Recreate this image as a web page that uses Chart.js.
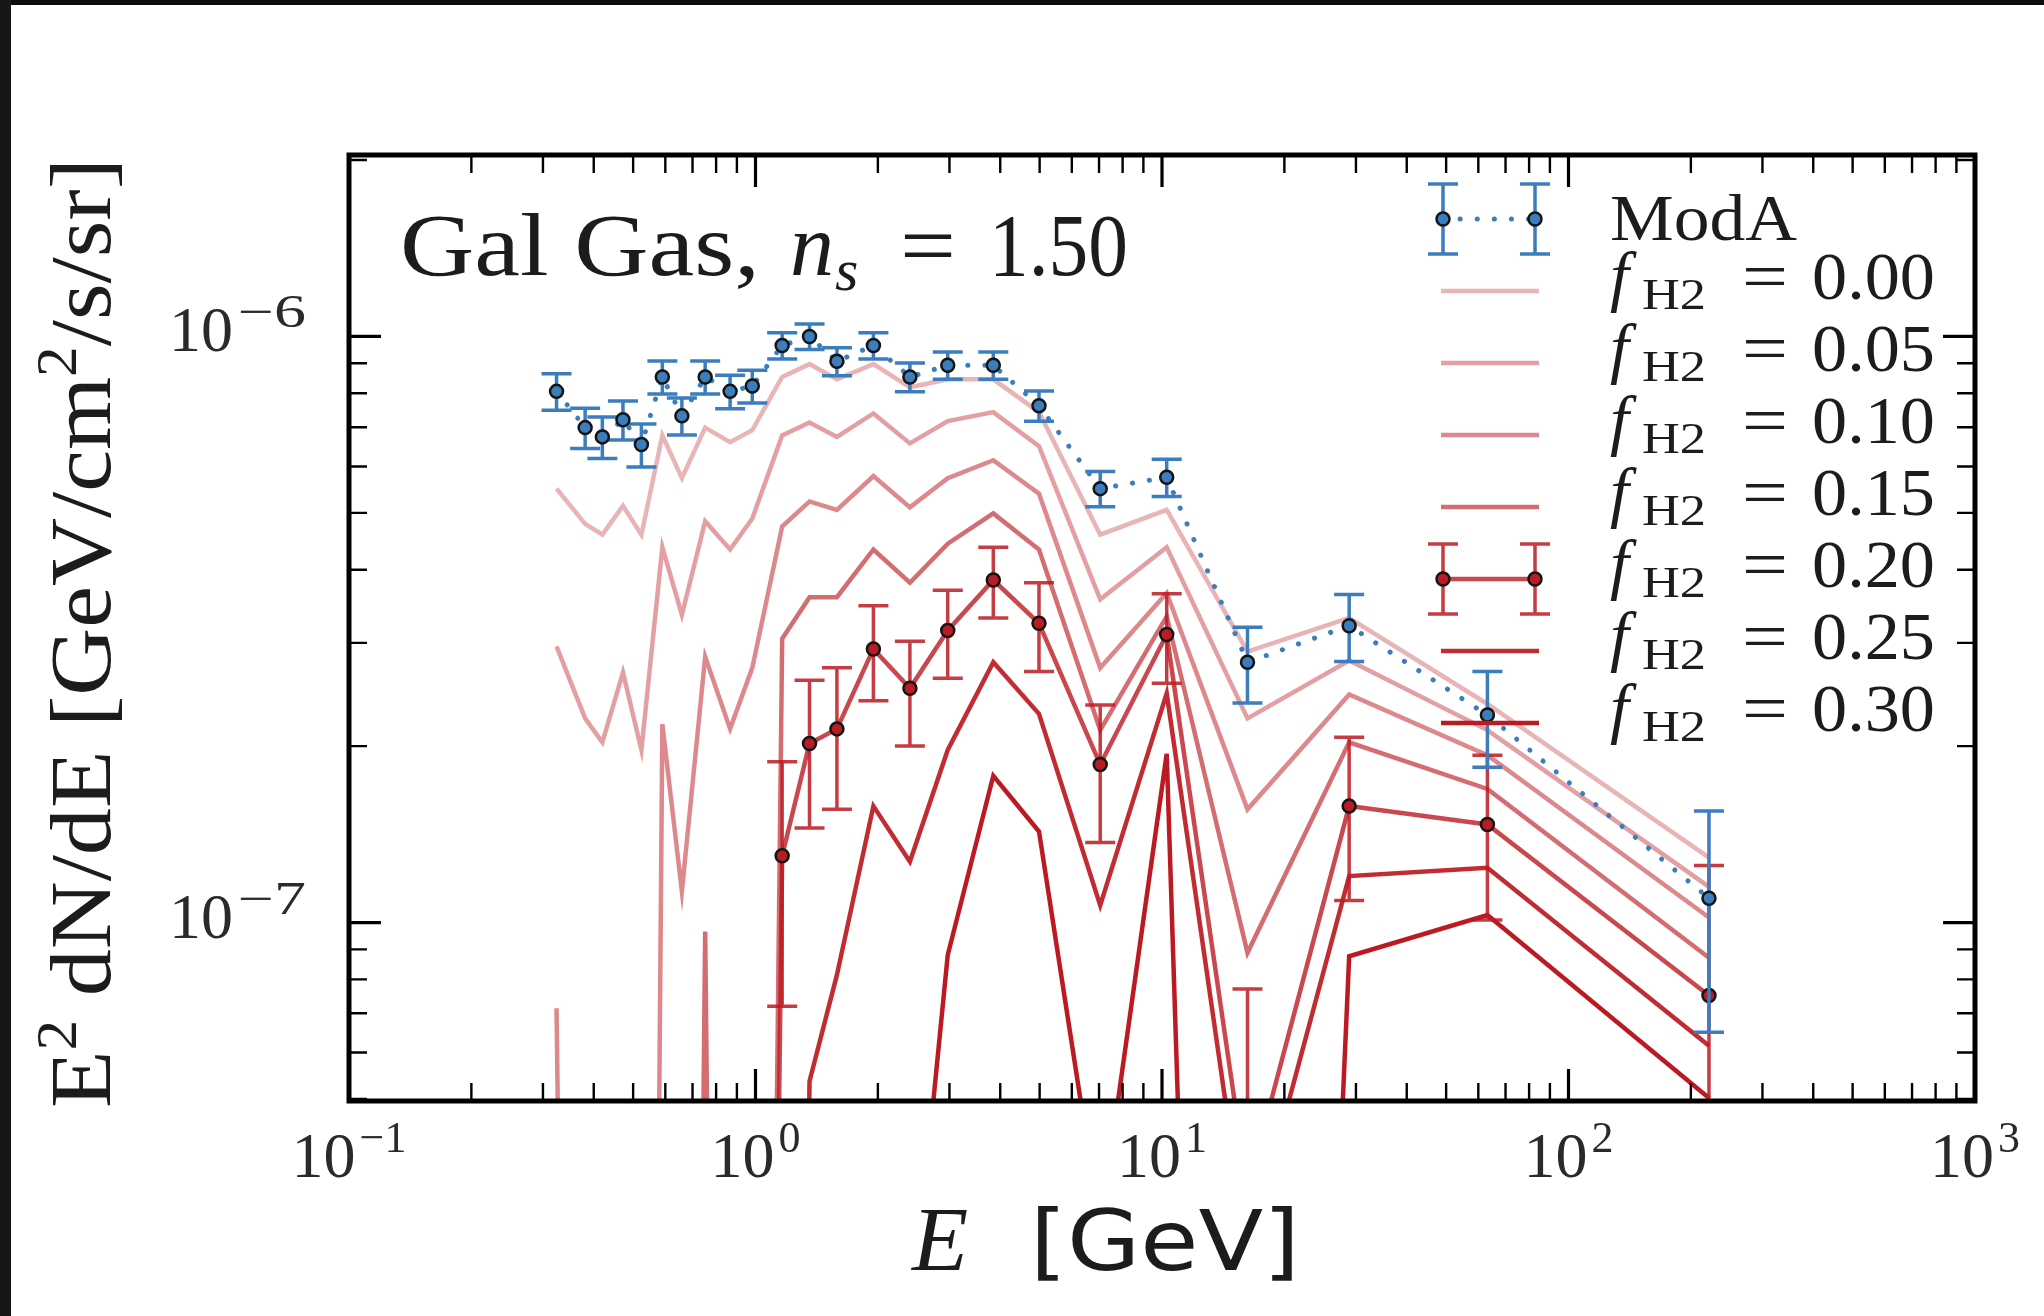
<!DOCTYPE html>
<html>
<head>
<meta charset="utf-8">
<script src="https://cdn.jsdelivr.net/npm/chart.js@4.4.0/dist/chart.umd.min.js"></script>
<style>
  html, body { margin: 0; padding: 0; background: #fff; }
  canvas { display: block; }
</style>
</head>
<body>
<canvas id="c" width="2044" height="1316"></canvas>
<script>
// energy bins [GeV]
const energies = [0.324, 0.381, 0.420, 0.472, 0.524, 0.590, 0.659, 0.752, 0.866, 0.982,
  1.163, 1.358, 1.586, 1.950, 2.398, 2.971, 3.846, 4.982, 7.047, 10.27, 16.23, 28.87, 63.17, 221.6];

// all fluxes in units of 1e-7 GeV/cm2/s/sr
const UNIT = 1e-7;
const OFF = 1e-4; // falls below the bottom of the plot

const modA    = [8.06, 6.99, 6.74, 7.21, 6.54, 8.53, 7.32, 8.53, 8.06, 8.23, 9.65, 10.0,
  9.07, 9.65, 8.53, 8.93, 8.93, 7.62, 5.50, 5.75, 2.78, 3.21, 2.26, 1.10];
const modAErr = [0.58, 0.55, 0.55, 0.55, 0.55, 0.55, 0.53, 0.55, 0.53, 0.53, 0.50, 0.50,
  0.50, 0.50, 0.48, 0.48, 0.48, 0.45, 0.38, 0.42, 0.41, 0.42, 0.42, 0.45];

const f000 = [5.50, 4.79, 4.59, 5.14, 4.59, 6.78, 5.73, 6.99, 6.60, 6.92, 8.53, 8.97,
  8.45, 8.97, 8.19, 8.45, 8.45, 7.43, 4.59, 5.06, 2.90, 3.31, 2.36, 1.29];
const f005 = [2.96, 2.23, 2.03, 2.67, 1.97, 4.37, 3.35, 4.84, 4.33, 4.89, 6.78, 7.13,
  6.74, 7.39, 6.57, 7.17, 7.43, 6.50, 3.56, 4.37, 2.23, 2.80, 2.13, 1.15];
const f010 = [0.714, OFF, OFF, OFF, OFF, 2.18, 1.13, 2.84, 2.14, 2.72, 4.74, 5.23,
  5.06, 5.78, 5.11, 5.73, 6.15, 5.39, 2.72, 3.65, 1.56, 2.45, 1.93, 1.02];
const f015 = [OFF, OFF, OFF, OFF, OFF, OFF, OFF, 0.965, OFF, OFF, 3.05, 3.59,
  3.59, 4.33, 3.80, 4.43, 4.99, 4.33, 2.13, 3.33, 0.888, 2.03, 1.69, 0.871];
const f020 = [OFF, OFF, OFF, OFF, OFF, OFF, OFF, OFF, OFF, OFF, 1.30, 2.02,
  2.14, 2.93, 2.51, 3.15, 3.84, 3.24, 1.86, 3.10, 0.35, 1.58, 1.47, 0.751];
const f020Err = [null, null, null, null, null, null, null, null, null, null, 0.58, 0.57,
  0.58, 0.54, 0.51, 0.54, 0.53, 0.56, 0.49, 0.54, 0.42, 0.49, 0.46, 0.50];
const f025 = [OFF, OFF, OFF, OFF, OFF, OFF, OFF, OFF, OFF, OFF, OFF, 0.536,
  0.814, 1.58, 1.27, 1.97, 2.78, 2.27, 1.07, 2.46, 0.271, 1.20, 1.24, 0.616];
const f030 = [OFF, OFF, OFF, OFF, OFF, OFF, OFF, OFF, OFF, OFF, OFF, OFF,
  OFF, OFF, 0.195, 0.880, 1.78, 1.43, 0.302, 1.94, OFF, 0.876, 1.03, 0.502];

const fLabels = ['0.00', '0.05', '0.10', '0.15', '0.20', '0.25', '0.30'];
const fSeries = [f000, f005, f010, f015, f020, f025, f030];
const fAlpha  = [0.33, 0.42, 0.52, 0.64, 0.8, 0.92, 1.0];

const xTickLabels = ['\u22121', '0', '1', '2', '3'];
const yTickLabels = ['\u22126', '\u22127'];

const BLUE = '#3b7dbd';
const RED = (a) => `rgba(188,26,34,${a})`;
const SERIF = '"Liberation Serif", "Times New Roman", serif';
const INK = '#1c1c1c';

const pts = (vals) => energies.map((e, i) => ({ x: e, y: vals[i] * UNIT }));
const errs = (vals) => vals.map(v => v == null ? null : v * UNIT);

const datasets = [{
  label: 'ModA', data: pts(modA), errors: errs(modAErr), errColor: BLUE, order: 0,
  borderColor: BLUE, borderWidth: 5, borderDash: [0.1, 17], borderCapStyle: 'round',
  pointRadius: 6.5, pointBackgroundColor: BLUE, pointBorderColor: '#151515', pointBorderWidth: 2.5
}];
fSeries.forEach((s, k) => {
  const isBar = k === 4;
  datasets.push({
    label: 'f_H2 = ' + fLabels[k], data: pts(s), order: 7 - k,
    errors: isBar ? errs(f020Err) : null, errColor: RED(0.85),
    borderColor: RED(fAlpha[k]), borderWidth: 4.5,
    pointRadius: isBar ? 6.5 : 0, pointBackgroundColor: '#b81c24',
    pointBorderColor: '#151515', pointBorderWidth: 2.5
  });
});

function txt(ctx, s, font, x, yb, w) {
  ctx.font = font;
  if (w) {
    const m = ctx.measureText(s).width;
    ctx.save(); ctx.translate(x, yb); ctx.scale(w / m, 1); ctx.fillText(s, 0, 0); ctx.restore();
  } else {
    ctx.fillText(s, x, yb);
  }
}

function errBar(ctx, color, px, top, bot, cap, capBot) {
  ctx.strokeStyle = color; ctx.lineWidth = 3.5;
  ctx.beginPath();
  ctx.moveTo(px, top); ctx.lineTo(px, bot);
  ctx.moveTo(px - cap, top); ctx.lineTo(px + cap, top);
  if (capBot) { ctx.moveTo(px - cap, bot); ctx.lineTo(px + cap, bot); }
  ctx.stroke();
}

function marker(ctx, x, y, fill) {
  ctx.beginPath(); ctx.arc(x, y, 6.5, 0, Math.PI * 2);
  ctx.fillStyle = fill; ctx.fill();
  ctx.lineWidth = 2.5; ctx.strokeStyle = '#151515'; ctx.stroke();
}

const errorBars = {
  id: 'errorBars',
  beforeDatasetDraw(chart, args) {
    const ds = chart.data.datasets[args.index];
    if (!ds.errors) return;
    const { ctx, chartArea: a, scales: { x, y } } = chart;
    ctx.save();
    ctx.beginPath(); ctx.rect(a.left, a.top, a.right - a.left, a.bottom - a.top); ctx.clip();
    ds.data.forEach((p, i) => {
      const e = ds.errors[i];
      if (e == null) return;
      const px = x.getPixelForValue(p.x);
      const lo = p.y - e;
      const top = y.getPixelForValue(p.y + e);
      const bot = lo > 0 ? y.getPixelForValue(lo) : a.bottom + 40;
      errBar(ctx, ds.errColor, px, top, bot, 15, lo > 0);
    });
    ctx.restore();
  }
};

const frame = {
  id: 'frame',
  beforeDraw(chart) {
    const ctx = chart.ctx;
    ctx.save();
    ctx.fillStyle = '#fff'; ctx.fillRect(0, 0, chart.width, chart.height);
    ctx.fillStyle = '#0c0c0c'; ctx.fillRect(0, 0, chart.width, 5);
    ctx.fillStyle = '#171717'; ctx.fillRect(0, 0, 11, chart.height);
    ctx.restore();
  },
  afterDraw(chart) {
    const { ctx, chartArea: a, scales: { x, y } } = chart;
    ctx.save();
    ctx.strokeStyle = '#000'; ctx.fillStyle = '#000';
    // ticks on all four sides, pointing inwards
    const tick = (horiz, pos, len, w) => {
      ctx.lineWidth = w; ctx.beginPath();
      if (horiz) {
        ctx.moveTo(pos, a.bottom); ctx.lineTo(pos, a.bottom - len);
        ctx.moveTo(pos, a.top); ctx.lineTo(pos, a.top + len);
      } else {
        ctx.moveTo(a.left, pos); ctx.lineTo(a.left + len, pos);
        ctx.moveTo(a.right, pos); ctx.lineTo(a.right - len, pos);
      }
      ctx.stroke();
    };
    for (let d = -1; d <= 3; d++) {
      tick(true, x.getPixelForValue(Math.pow(10, d)), 32, 3.2);
      if (d < 3) for (let m = 2; m <= 9; m++) tick(true, x.getPixelForValue(m * Math.pow(10, d)), 18, 2.4);
    }
    for (let d = -8; d <= -6; d++) {
      for (let m = 1; m <= 9; m++) {
        const v = m * Math.pow(10, d);
        if (v < y.min || v > y.max) continue;
        if (m === 1) tick(false, y.getPixelForValue(v), 32, 3.2);
        else tick(false, y.getPixelForValue(v), 18, 2.4);
      }
    }
    ctx.lineWidth = 5;
    ctx.strokeRect(a.left, a.top, a.right - a.left, a.bottom - a.top);

    // tick labels
    ctx.fillStyle = '#2a2a2a';
    xTickLabels.forEach((s, i) => {
      const px = x.getPixelForValue(Math.pow(10, i - 1));
      ctx.font = '64px ' + SERIF;
      const w1 = ctx.measureText('10').width;
      ctx.font = '44px ' + SERIF;
      const w2 = ctx.measureText(s).width;
      const x0 = px - (w1 + w2 + 4) / 2;
      txt(ctx, '10', '64px ' + SERIF, x0, 1177);
      txt(ctx, s, '44px ' + SERIF, x0 + w1 + 4, 1152);
    });
    yTickLabels.forEach((s, i) => {
      const py = y.getPixelForValue(Math.pow(10, -6 - i));
      txt(ctx, '10', '64px ' + SERIF, 169, py + 15);
      txt(ctx, s, '46px ' + SERIF, 238, py - 9, 68);
    });

    // axis labels
    ctx.fillStyle = INK;
    txt(ctx, 'E', 'italic 92px ' + SERIF, 912, 1270);
    txt(ctx, '[GeV]', '84px "DejaVu Sans", sans-serif', 1030, 1270, 270);

    ctx.save();
    ctx.translate(110, 1108); ctx.rotate(-Math.PI / 2);
    const runs = [['E', 86, 0], ['2', 56, -34], [' dN/dE [GeV/cm', 86, 0], ['2', 56, -34], ['/s/sr]', 86, 0]];
    let tot = 0;
    runs.forEach(r => { ctx.font = r[1] + 'px ' + SERIF; tot += ctx.measureText(r[0]).width; });
    ctx.scale(950 / tot, 1);
    let cx = 0;
    runs.forEach(r => {
      ctx.font = r[1] + 'px ' + SERIF; ctx.fillText(r[0], cx, r[2]); cx += ctx.measureText(r[0]).width;
    });
    ctx.restore();

    // title
    txt(ctx, 'Gal Gas,', '88px ' + SERIF, 400, 275, 360);
    txt(ctx, 'n', 'italic 88px ' + SERIF, 790, 275);
    txt(ctx, 's', 'italic 60px ' + SERIF, 835, 290);
    txt(ctx, '=', '88px ' + SERIF, 900, 275, 56);
    txt(ctx, '1.50', '88px ' + SERIF, 989, 275, 139);

    // legend
    const lx1 = 1443, lx2 = 1535;
    const rowY = (k) => 219 + 72 * k;
    ctx.save();
    ctx.strokeStyle = BLUE; ctx.lineWidth = 5; ctx.lineCap = 'round'; ctx.setLineDash([0.1, 17]);
    ctx.beginPath(); ctx.moveTo(lx1, rowY(0)); ctx.lineTo(lx2, rowY(0)); ctx.stroke();
    ctx.restore();
    [lx1, lx2].forEach(px => { errBar(ctx, BLUE, px, rowY(0) - 35, rowY(0) + 35, 15, true); marker(ctx, px, rowY(0), BLUE); });
    ctx.fillStyle = INK;
    txt(ctx, 'ModA', '66px ' + SERIF, 1610, rowY(0) + 21, 187);
    fLabels.forEach((s, k) => {
      const yy = rowY(k + 1);
      ctx.strokeStyle = RED(fAlpha[k]); ctx.lineWidth = 4.5;
      ctx.beginPath(); ctx.moveTo(lx1 - 2, yy); ctx.lineTo(lx2 + 4, yy); ctx.stroke();
      if (k === 4) {
        [lx1, lx2].forEach(px => { errBar(ctx, RED(0.85), px, yy - 35, yy + 35, 15, true); marker(ctx, px, yy, '#b81c24'); });
      }
      ctx.fillStyle = INK;
      txt(ctx, 'f', 'italic 68px ' + SERIF, 1610, yy + 8);
      txt(ctx, 'H2', '44px ' + SERIF, 1642, yy + 18, 64);
      txt(ctx, '=', '68px ' + SERIF, 1742, yy + 8, 46);
      txt(ctx, s, '68px ' + SERIF, 1812, yy + 8, 123);
    });
    ctx.restore();
  }
};

new Chart(document.getElementById('c'), {
  type: 'line',
  data: { datasets },
  options: {
    responsive: false,
    animation: false,
    events: [],
    layout: { padding: { left: 349, right: 69, top: 155, bottom: 215 } },
    plugins: { legend: { display: false }, tooltip: { enabled: false } },
    elements: { line: { tension: 0 } },
    scales: {
      x: { type: 'logarithmic', min: 0.1, max: 1000, display: false },
      y: { type: 'logarithmic', min: 4.96e-8, max: 2.04e-6, display: false }
    }
  },
  plugins: [frame, errorBars]
});
</script>
</body>
</html>
